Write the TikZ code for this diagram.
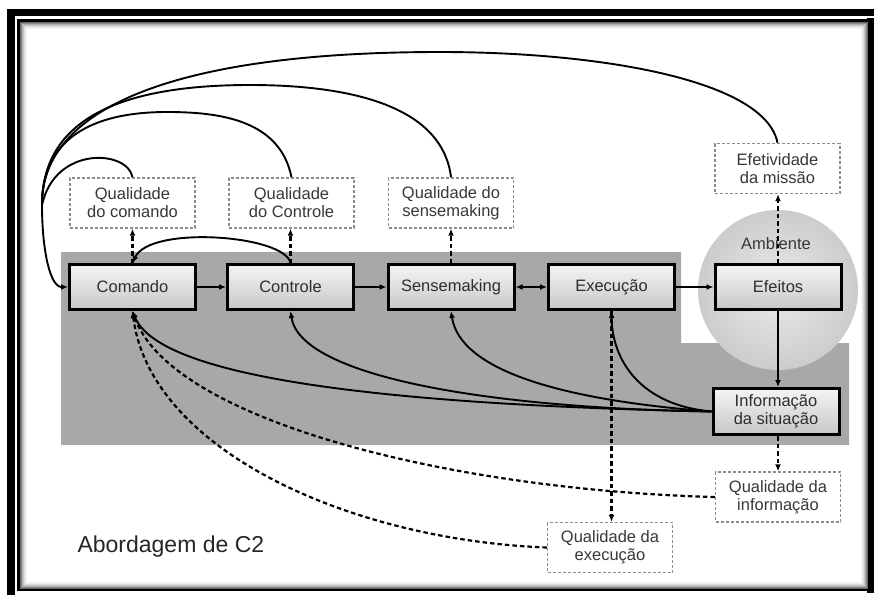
\documentclass[tikz,border=0pt]{standalone}
\usepackage{fontspec}
\setmainfont{Liberation Sans}
\usetikzlibrary{arrows.meta}
\begin{document}
\begin{tikzpicture}[x=1pt,y=-1pt,
  mainbox/.style={draw=black,line width=3pt,top color=black!4,bottom color=black!22,
    minimum width=126pt,minimum height=45pt,inner sep=0pt,text=black!82,
    font=\fontsize{16.5}{18}\selectfont,align=center},
  qbox/.style={draw=black!45,line width=1.4pt,dash pattern=on 3pt off 2pt,fill=white,
    minimum width=125pt,minimum height=50pt,inner sep=0pt,text=black!78,
    font=\fontsize{16.5}{18}\selectfont,align=center},
  tip/.style={-{Latex[length=7pt,width=6pt]}},
  conn/.style={line width=1.9pt,tip},
  dconn/.style={line width=2.2pt,dash pattern=on 4.5pt off 3pt,tip},
  curve/.style={line width=1.9pt}]
\useasboundingbox (0,0) rectangle (874,595);
% frame
\fill[black] (7,9) rectangle (15,595);
\fill[black] (7,9) rectangle (874,16);
\fill[black] (867,18) rectangle (874,593);
\filldraw[fill=white,draw=black,line width=2.5pt] (18.5,20.5) rectangle (869,590);
\foreach \i/\c in {2/60,3/45,4/32,5/22,6/14,7/8,8/4}
  \draw[black!\c,line width=1pt] (18.5+\i,20.5+\i) rectangle (869-\i,590-\i);
% grey region and environment circle
\fill[black!34] (61,252) -- (681,252) -- (681,343) -- (849,343) -- (849,445) -- (61,445) -- cycle;
\shade[inner color=black!8,outer color=black!20] (778,290) circle[radius=80];
% nodes
\node[mainbox] (com) at (132.5,287) {Comando};
\node[mainbox] (ctl) at (290.5,287) {Controle};
\node[mainbox] (sen) at (451,287) {Sensemaking};
\node[mainbox] (exe) at (611.5,287) {Execução};
\node[mainbox] (efe) at (778,287) {Efeitos};
\node[mainbox,minimum height=46pt] (inf) at (776,411.5) {Informação\\da situação};
\node[qbox] (q1) at (132.5,203) {Qualidade\\do comando};
\node[qbox] (q2) at (291.5,203) {Qualidade\\do Controle};
\node[qbox] (q3) at (451,203) {Qualidade do\\sensemaking};
\node[qbox] (qE) at (777.5,168.5) {Efetividade\\da missão};
\node[qbox] (qI) at (778,497) {Qualidade da\\informação};
\node[qbox] (qX) at (610,547.5) {Qualidade da\\execução};
\node[font=\fontsize{16.5}{18}\selectfont,text=black!78] (amb) at (776,244) {Ambiente};
\node[font=\fontsize{23}{26}\selectfont,text=black!85,anchor=base west] (title) at (74,552) {Abordagem de C2};
% main chain
\draw[conn] (com.east) -- (ctl.west);
\draw[conn] (ctl.east) -- (sen.west);
\draw[line width=1.9pt,{Latex[length=7pt,width=6pt]}-{Latex[length=7pt,width=6pt]}] (sen.east) -- (exe.west);
\draw[conn] (exe.east) -- (efe.west);
\draw[conn] (efe.south) -- (efe.south |- inf.north);
% quality links
\draw[dconn] (efe.north) -- (efe.north |- qE.south);
\draw[dconn] (qI.north |- inf.south) -- (qI.north);
\draw[dconn] (com.north) -- (q1.south);
\draw[dconn] (ctl.north) -- (ctl.north |- q2.south);
\draw[dconn] (sen.north) -- (q3.south);
\draw[dconn] (exe.south) -- (exe.south |- qX.north);
% control back to command
\draw[conn] (ctl.north) .. controls (285,235) and (150,225) .. (com.north);
% feedback from quality boxes to command
\coordinate (cv) at (42,205);
\draw[curve] (q1.north) .. controls (128,150) and (55,145) .. (cv);
\draw[curve] (q2.north) .. controls (280,120) and (220,112) .. (167,112) .. controls (90,112) and (42,140) .. (cv);
\draw[curve] (q3.north) .. controls (443,110) and (360,85) .. (250,85) .. controls (110,85) and (42,125) .. (cv);
\draw[curve] (qE.north) .. controls (765,80) and (600,52) .. (440,52) .. controls (170,52) and (41,110) .. (cv);
\draw[conn] (cv) .. controls (42,250) and (50,287) .. (com.west);
% situation information feedback
\draw[conn] (inf.west) .. controls (400,405) and (160,380) .. (com.south);
\draw[conn] (inf.west) .. controls (480,408) and (300,375) .. (ctl.south);
\draw[conn] (inf.west) .. controls (560,400) and (460,370) .. (sen.south);
\draw[conn] (inf.west) .. controls (640,405) and (612,360) .. (exe.south);
% quality of information / execution to command
\draw[dconn] (qI.west) .. controls (450,490) and (170,420) .. (com.south);
\draw[dconn] (qX.west) .. controls (350,540) and (150,450) .. (com.south);
\end{tikzpicture}
\end{document}
